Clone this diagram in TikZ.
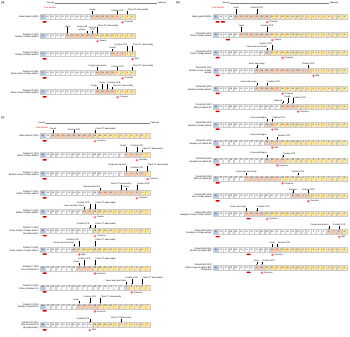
\documentclass[tikz,border=0pt]{standalone}
\usepackage{fontspec}
\setmainfont{Liberation Sans}
\usetikzlibrary{positioning,arrows.meta}

\definecolor{wuhan}{HTML}{B4C7E7}
\definecolor{onset}{HTML}{F8CBAD}
\definecolor{diag}{HTML}{FFE699}

\tikzset{day/.style = {draw=gray!40, line width=0.3pt, minimum height=5mm, inner sep=0pt,
                       font=\fontsize{5.5}{6}\selectfont},
         dayblue/.style = {day, fill=wuhan},
         daywhite/.style = {day, fill=gray!5},
         dayorange/.style = {day, fill=onset},
         dayyellow/.style = {day, fill=diag},
         rowlab/.style = {align=right, inner sep=0pt, font=\fontsize{6.3}{7.2}\selectfont},
         evlab/.style = {align=center, inner sep=0.3mm, font=\fontsize{6}{6.5}\selectfont},
         evarr/.style = {-{Stealth[length=0.9mm, width=0.7mm]}, line width=0.25pt},
         sevdot/.style = {circle, fill=red!75, draw=red!25, line width=0.7pt,
                          minimum size=2.6mm, inner sep=0pt},
         sevlab/.style = {inner sep=0pt, font=\fontsize{6}{6.5}\selectfont},
         trip/.style = {fill=red!85!black, rounded corners=0.4mm, minimum width=4mm,
                        minimum height=1.5mm, inner sep=0pt},
         wuhanlab/.style = {text=red!85!black, inner sep=0pt, font=\fontsize{6}{6.5}\selectfont},
         month/.style = {inner sep=0.6mm, font=\fontsize{6}{6.5}\selectfont},
         panel/.style = {inner sep=0pt, font=\fontsize{7}{8}\selectfont\bfseries}
        }

\def\daysA{17,18,...,31,1,2,3,4}
\def\daysB{15,16,...,31,1,2,...,9}
\def\daysC{18,19,...,31,1,2,...,7}

% name, x of first box, y, step, days, first orange, first yellow
\newcommand{\dayrow}[7]{%
  \foreach \d [count=\i] in #5 {%
    \ifnum\i=1 \def\bx{dayblue}\else\ifnum\i<#6 \def\bx{daywhite}\else
      \ifnum\i<#7 \def\bx{dayorange}\else\def\bx{dayyellow}\fi\fi\fi
    \node[\bx, minimum width={#4mm-0.4mm}] (#1-\i) at ({#2+(\i-1)*#4},#3) {\d};
  }}
\newcommand{\who}[2]{\node[rowlab, left=1.5mm of #1-1] (#1-who) {#2};}
\newcommand{\ev}[5][south]{%
  \node[evlab, anchor=#1] (#3) at ([yshift=#4]#2.north) {#5};
  \draw[evarr] (#3.south -| #2.north) -- (#2.north);}
\newcommand{\sev}[3]{%
  \node[sevdot, below=1.2mm of #1] (#2) {};
  \node[sevlab, right=0.6mm of #2] (#2-t) {#3};}
\newcommand{\trip}[2]{\node[trip, below=1.4mm of #1, xshift=2mm] (#2) {};}

\begin{document}
\begin{tikzpicture}[x=1mm, y=-1mm]
\useasboundingbox (0,0) rectangle (350,336);

% (a)
\node[panel] (pa) at (3,3) {(a)};
\node[month] (ajan) at (51,3) {January};
\node[month] (afeb) at (162,3) {February};
\draw[gray] (ajan) -- (afeb);
\node[wuhanlab] (awuh) at (50,7.5) {From Wuhan};

\dayrow{a0}{42.5}{17}{5.0}{\daysA}{11}{17}
\who{a0}{Index patient A(GD)}
\ev{a0-11}{a0-e1}{3mm}{Cough}
\ev{a0-16}{a0-e2}{3mm}{Positive PCR}
\ev[south west]{a0-18}{a0-e3}{3mm}{Chest CT abnormality}
\sev{a0-17}{a0-s}{Common}
\trip{a0-1}{a0-t}

\dayrow{a1}{42.5}{36}{5.0}{\daysA}{6}{12}
\who{a1}{Patient A1 (GD)\\Brother of index patient}
\ev{a1-6}{a1-e1}{6mm}{Fever}
\ev[south east]{a1-10}{a1-e2}{2.5mm}{Cough and\\sputum}
\ev{a1-11}{a1-e3}{2.5mm}{Positive\\PCR}
\ev[south west]{a1-12}{a1-e4}{6mm}{Chest CT abnormality}
\sev{a1-12}{a1-s}{Severe}

\dayrow{a2}{42.5}{54}{5.0}{\daysA}{15}{18}
\who{a2}{Patient A2 (GD)\\Brother of index patient}
\ev{a2-15}{a2-e1}{2.5mm}{Cough}
\ev[south east]{a2-18}{a2-e2}{5.5mm}{Positive PCR}
\ev[south west]{a2-19}{a2-e3}{5.5mm}{Chest CT abnormality}
\sev{a2-19}{a2-s}{Mild}
\trip{a2-1}{a2-t}

\dayrow{a3}{42.5}{73}{5.0}{\daysA}{12}{16}
\who{a3}{Patient A3 (GD)\\Sister-in-law of index patient}
\ev{a3-12}{a3-e1}{3mm}{Cough and sputum}
\ev{a3-16}{a3-e2}{3mm}{Positive PCR}
\ev[south west]{a3-19}{a3-e3}{3mm}{Chest CT abnormality}
\sev{a3-17}{a3-s}{Common}
\trip{a3-1}{a3-t}

\dayrow{a4}{42.5}{92}{5.0}{\daysA}{12}{16}
\who{a4}{Patient A4 (GD)\\Sister-in-law of index patient}
\ev[south east]{a4-12}{a4-e1}{2.5mm}{Cough}
\ev{a4-13}{a4-e2}{5.5mm}{Fever}
\ev[south west]{a4-14}{a4-e3}{5.5mm}{Positive PCR}
\ev[south west]{a4-15}{a4-e4}{2.5mm}{Chest CT abnormality}
\sev{a4-16}{a4-s}{Common}
\trip{a4-1}{a4-t}

% (c)
\node[panel] (pc) at (3,118) {(c)};
\node[month] (cjan) at (42,123) {January};
\node[month] (cfeb) at (155,123) {February};
\draw[gray] (cjan) -- (cfeb);
\node[wuhanlab] (cwuh) at (42,127.5) {From Wuhan};

\dayrow{c0}{42.6}{136}{5.24}{\daysC}{3}{11}
\who{c0}{Index patient C(SX)}
\ev{c0-3}{c0-e1}{3mm}{Cough}
\ev{c0-7}{c0-e2}{3mm}{Positive PCR}
\ev[south west]{c0-11}{c0-e3}{3mm}{Chest CT abnormality}
\sev{c0-11}{c0-s}{Common}
\trip{c0-1}{c0-t}

\dayrow{c1}{42.6}{155}{5.24}{\daysC}{17}{20}
\who{c1}{Patient C1 (SX)\\Sister of index patient}
\ev[south east]{c1-17}{c1-e1}{5.5mm}{Cough}
\ev{c1-19}{c1-e2}{5.5mm}{Positive PCR}
\ev[south west]{c1-20}{c1-e3}{2.5mm}{Chest CT abnormality}
\sev{c1-19}{c1-s}{Common}
\trip{c1-1}{c1-t}

\dayrow{c2}{42.6}{174}{5.24}{\daysC}{17}{21}
\who{c2}{Patient C2 (SX)\\Brother-in-law of index patient}
\ev[south east]{c2-17}{c2-e1}{5.5mm}{Cough and sputum}
\ev{c2-19}{c2-e2}{2.5mm}{Positive PCR}
\ev[south west]{c2-21}{c2-e3}{5.5mm}{Chest CT abnormality}
\sev{c2-21}{c2-s}{Common}
\trip{c2-1}{c2-t}

\dayrow{c3}{42.6}{193}{5.24}{\daysC}{12}{20}
\who{c3}{Patient C3 (SX)\\Father of index patient}
\ev[south east]{c3-12}{c3-e1}{2.5mm}{Nasal obstruction}
\ev{c3-16}{c3-e2}{5.5mm}{Chest CT abnormality}
\ev{c3-17}{c3-e3}{2.5mm}{Fever}
\ev[south west]{c3-19}{c3-e4}{5.5mm}{Positive PCR}
\sev{c3-19}{c3-s}{Common}
\trip{c3-1}{c3-t}

\dayrow{c4}{42.6}{212}{5.24}{\daysC}{9}{11}
\who{c4}{Patient C4 (SX)\\Mother of index patient}
\ev[south east]{c4-9}{c4-e1}{2.5mm}{Fever and sore throat}
\ev[south east]{c4-10}{c4-e2}{5.5mm}{Positive PCR}
\ev[south west]{c4-11}{c4-e3}{5.5mm}{Chest CT abnormality}
\sev{c4-11}{c4-s}{Severe}
\trip{c4-1}{c4-t}

\dayrow{c5}{42.6}{230.9}{5.24}{\daysC}{11}{11}
\who{c5}{Patient C5 (SX)\\Close contact of index patient\\(Asymptomatic)}
\ev[south east]{c5-10}{c5-e1}{3mm}{Positive PCR}
\ev[south west]{c5-11}{c5-e2}{3mm}{Chest CT abnormality}
\sev{c5-11}{c5-s}{Common}
\trip{c5-1}{c5-t}

\dayrow{c6}{42.6}{249.4}{5.24}{\daysC}{7}{8}
\who{c6}{Patient C6 (SX)\\Close contact of index patient}
\ev[south east]{c6-7}{c6-e1}{2.5mm}{Fever and sore throat}
\ev[south east]{c6-8}{c6-e2}{5.5mm}{Positive PCR}
\ev[south west]{c6-11}{c6-e3}{5.5mm}{Chest CT abnormality}
\sev{c6-8}{c6-s}{Mild}
\trip{c6-1}{c6-t}

\dayrow{c7}{42.6}{268.3}{5.24}{\daysC}{8}{11}
\who{c7}{Patient C7 (SX)\\Son of patient C6}
\ev[south east]{c7-8}{c7-e1}{2.5mm}{Fever}
\ev{c7-9}{c7-e2}{5.5mm}{Positive PCR}
\ev[south west]{c7-11}{c7-e3}{5.5mm}{Chest CT abnormality}
\sev{c7-11}{c7-s}{Common}
\trip{c7-1}{c7-t}

\dayrow{c8}{42.6}{287.2}{5.24}{\daysC}{17}{18}
\who{c8}{Patient C8 (SX)\\Father of patient C6}
\ev[south east]{c8-17}{c8-e1}{2.5mm}{Fever and sore throat}
\ev{c8-18}{c8-e2}{5.5mm}{Positive PCR}
\ev[south west]{c8-20}{c8-e3}{5.5mm}{Chest CT abnormality}
\sev{c8-18}{c8-s}{Common}
\trip{c8-1}{c8-t}

\dayrow{c9}{42.6}{306.1}{5.24}{\daysC}{8}{12}
\who{c9}{Patient C9 (SX)\\Mother of patient C6}
\ev[south east]{c9-8}{c9-e1}{2.5mm}{Fever}
\ev{c9-10}{c9-e2}{5.5mm}{Positive PCR}
\ev[south west]{c9-12}{c9-e3}{5.5mm}{Chest CT abnormality}
\sev{c9-11}{c9-s}{Common}
\trip{c9-1}{c9-t}

\dayrow{c10}{42.6}{325}{5.24}{\daysC}{11}{11}
\who{c10}{Patient C10 (SX)\\Wife of patient C6\\(Asymptomatic)}
\ev[south east]{c10-10}{c10-e1}{3mm}{Positive PCR}
\ev{c10-16}{c10-e2}{3mm}{Chest CT abnormality}
\sev{c10-10}{c10-s}{Mild}
\trip{c10-1}{c10-t}

% (b)
\node[panel] (pb) at (178,3) {(b)};
\node[month] (bjan) at (226,3) {January};
\node[month] (bfeb) at (334,3) {February};
\draw[gray] (bjan) -- (bfeb);
\node[wuhanlab] (bwuh) at (218,7.5) {From Wuhan};

\dayrow{b0}{215.6}{17}{5.15}{\daysB}{5}{12}
\who{b0}{Index patient B(GD)}
\ev{b0-5}{b0-e1}{5.5mm}{Fever}
\ev{b0-9}{b0-e2}{5.5mm}{Positive PCR}
\sev{b0-11}{b0-s}{Common}
\trip{b0-1}{b0-t1}
\trip{b0-2}{b0-t2}

\dayrow{b1}{215.6}{34.9}{5.15}{\daysB}{6}{12}
\who{b1}{Patient B1 (GD)\\Sister of index patient}
\ev{b1-6}{b1-e1}{5.5mm}{Fever}
\ev{b1-11}{b1-e2}{5.5mm}{Positive PCR}
\sev{b1-12}{b1-s}{Severe}
\trip{b1-3}{b1-t}

\dayrow{b2}{215.6}{52.8}{5.15}{\daysB}{11}{12}
\who{b2}{Patient B2 (GD)\\Sister of index patient}
\ev[south east]{b2-11}{b2-e1}{2.5mm}{Fever and sore throat}
\ev[south east]{b2-12}{b2-e2}{5.5mm}{Positive PCR}
\sev{b2-14}{b2-s}{Common}
\trip{b2-1}{b2-t}

\dayrow{b3}{215.6}{70.7}{5.15}{\daysB}{9}{20}
\who{b3}{Patient B3 (GD)\\Brother-in-law of index\\patient}
\ev{b3-9}{b3-e1}{3mm}{Fever and cough}
\ev{b3-19}{b3-e2}{3mm}{Positive PCR}
\sev{b3-20}{b3-s}{Mild}
\trip{b3-1}{b3-t}

\dayrow{b4}{215.6}{88.6}{5.15}{\daysB}{9}{14}
\who{b4}{Patient B4 (GD)\\Nephew of index patient}
\ev[south east]{b4-9}{b4-e1}{3mm}{Fever and cough}
\ev[south west]{b4-11}{b4-e2}{3mm}{Positive PCR}
\sev{b4-14}{b4-s}{Common}
\trip{b4-1}{b4-t}

\dayrow{b5}{215.6}{106.5}{5.15}{\daysB}{14}{17}
\who{b5}{Patient B5 (GD)\\Wife of patient B4}
\ev[south east]{b5-14}{b5-e1}{2.5mm}{Diarrhea}
\ev{b5-15}{b5-e2}{5.5mm}{Cough}
\ev[south west]{b5-16}{b5-e3}{5.5mm}{Positive PCR}
\sev{b5-17}{b5-s}{Common}
\trip{b5-1}{b5-t}

\dayrow{b6}{215.6}{124.4}{5.15}{\daysB}{11}{13}
\who{b6}{Patient B6 (GD)\\Nephew of index patient}
\ev[south east]{b6-11}{b6-e1}{3mm}{Fever and fatigue}
\ev[south west]{b6-12}{b6-e2}{3mm}{Positive PCR}
\sev{b6-12}{b6-s}{Mild}
\trip{b6-1}{b6-t}

\dayrow{b7}{215.6}{142.3}{5.15}{\daysB}{11}{14}
\who{b7}{Patient B7 (GD)\\Daughter of patient B6}
\ev[south east]{b7-11}{b7-e1}{3mm}{Fever and fatigue}
\ev[south west]{b7-13}{b7-e2}{3mm}{Positive PCR}
\sev{b7-12}{b7-s}{Mild}
\trip{b7-1}{b7-t}

\dayrow{b8}{215.6}{160.2}{5.15}{\daysB}{11}{15}
\who{b8}{Patient B8 (GD)\\Daughter of patient B6}
\ev[south east]{b8-11}{b8-e1}{3mm}{Fever and fatigue}
\ev[south west]{b8-14}{b8-e2}{3mm}{Positive PCR}
\sev{b8-13}{b8-s}{Common}
\trip{b8-1}{b8-t}

\dayrow{b9}{215.6}{178.1}{5.15}{\daysB}{7}{14}
\who{b9}{Patient B9 (GD)\\Wife of patient B6}
\ev{b9-7}{b9-e1}{3mm}{Fever and sore throat}
\ev{b9-17}{b9-e2}{3mm}{Positive PCR}
\sev{b9-14}{b9-s}{Common}
\trip{b9-1}{b9-t}

\dayrow{b10}{215.6}{196}{5.15}{\daysB}{16}{20}
\who{b10}{Patient B10 (GD)\\Son of index patient}
\ev{b10-16}{b10-e1}{3mm}{Diarrhea}
\ev{b10-19}{b10-e2}{3mm}{Positive PCR}
\sev{b10-19}{b10-s}{Common}
\trip{b10-1}{b10-t}

\dayrow{b11}{215.6}{213.9}{5.15}{\daysB}{7}{11}
\who{b11}{Patient B11 (GD)\\Daughter-in-law of index patient}
\ev[south east]{b11-7}{b11-e1}{3mm}{Fever and cough}
\ev[south west]{b11-9}{b11-e2}{3mm}{Positive PCR}
\sev{b11-11}{b11-s}{Common}
\trip{b11-7}{b11-t}

\dayrow{b12}{215.6}{231.8}{5.15}{\daysB}{23}{26}
\who{b12}{Patient B12 (GD)\\Grandson of index patient}
\ev[south east]{b12-23}{b12-e1}{3mm}{Cough and sputum}
\ev{b12-25}{b12-e2}{3mm}{Positive PCR}
\sev{b12-25}{b12-s}{Mild}
\trip{b12-1}{b12-t}

\dayrow{b13}{215.6}{249.7}{5.15}{\daysB}{12}{14}
\who{b13}{Patient B13 (GD)\\Brother of patient B11}
\ev{b13-12}{b13-e1}{3mm}{Fever}
\ev[south west]{b13-13}{b13-e2}{3mm}{Positive PCR}
\sev{b13-12}{b13-s}{Common}
\trip{b13-7}{b13-t}

\dayrow{b14}{215.6}{267.6}{5.15}{\daysB}{9}{11}
\who{b14}{Patient B14 (GD)\\Sister-in-law of patient B11\\(Pregnant)}
\ev{b14-9}{b14-e1}{3mm}{Fever}
\ev[south west]{b14-10}{b14-e2}{3mm}{Positive PCR}
\sev{b14-10}{b14-s}{Common}
\trip{b14-7}{b14-t}
\end{tikzpicture}
\end{document}
